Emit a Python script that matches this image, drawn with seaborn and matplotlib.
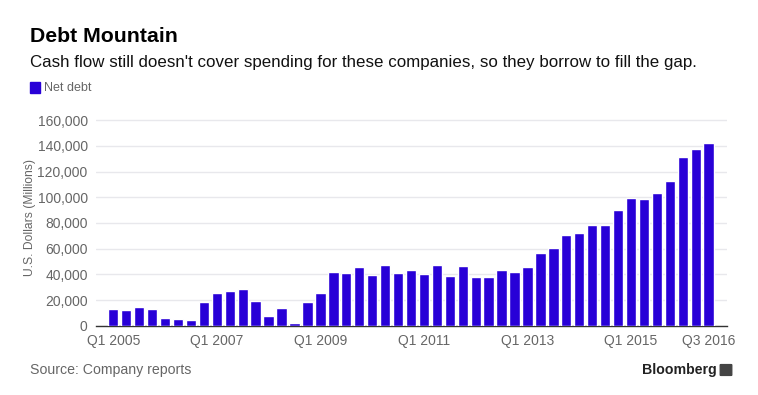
import matplotlib
matplotlib.use("Agg")
import matplotlib.pyplot as plt
import seaborn as sns
import pandas as pd
from matplotlib.patches import FancyBboxPatch

# Net debt by quarter, Q1 2005 - Q3 2016 (U.S. $ millions)
years = list(range(2005, 2017))
quarters = [f"Q{q} {y}" for y in years for q in (1, 2, 3, 4)][:47]
net_debt = [12700, 11950, 14300, 12700, 6000, 5450, 4400, 18200, 25400, 26700,
            28300, 19500, 7500, 13800, 1800, 18200, 25400, 42000, 41000, 45700,
            39700, 47000, 41000, 43400, 40200, 47300, 38700, 46500, 38200, 38200,
            43100, 42100, 45400, 56900, 60500, 70400, 71900, 78100, 78400, 90100,
            99700, 98400, 103600, 112400, 131100, 137600, 142000]
shown_ticks = ["Q1 2005", "Q1 2007", "Q1 2009", "Q1 2011", "Q1 2013", "Q1 2015", "Q3 2016"]
y_ticks = list(range(0, 160001, 20000))

BAR = "#2800d7"
GREY = "#666666"


def main():
    df = pd.DataFrame({"quarter": quarters, "net_debt": net_debt})

    sns.set_style("white")
    plt.rcParams["font.family"] = ["Liberation Sans", "DejaVu Sans"]

    fig = plt.figure(figsize=(7.58, 3.95), dpi=100)
    ax = fig.add_axes([0.1266, 0.1754, 0.8324, 0.5266])

    sns.barplot(data=df, x="quarter", y="net_debt", color=BAR, width=0.8,
                saturation=1, ax=ax, zorder=3)

    ax.set_xlim(-1.34, len(quarters) - 1 + 1.41)
    ax.set_ylim(0, 162000)
    ax.set_yticks(y_ticks)
    ax.set_yticklabels([f"{v:,}" for v in y_ticks], color=GREY, fontsize=10)
    ax.yaxis.grid(True, color="#e8e8ec", linewidth=1, zorder=0)
    ax.xaxis.grid(False)

    pos = [quarters.index(t) for t in shown_ticks]
    ax.set_xticks(pos)
    ax.set_xticklabels(shown_ticks, color=GREY, fontsize=10)
    ax.tick_params(axis="x", length=4, width=1, color="#333333", pad=2)
    ax.tick_params(axis="y", length=0, pad=6)
    ax.set_xlabel("")
    ax.set_ylabel("")

    for s in ["top", "right", "left"]:
        ax.spines[s].set_visible(False)
    ax.spines["bottom"].set_color("#333333")
    ax.spines["bottom"].set_linewidth(1)

    fig.text(30 / 758, 1 - 218 / 395, "U.S. Dollars (Millions)", rotation=90,
             ha="center", va="center", color=GREY, fontsize=8.7)

    # header
    fig.text(30 / 758, 1 - 37 / 395, "Debt Mountain", fontsize=15.3,
             fontweight="bold", color="#000000", va="center")
    fig.text(30 / 758, 1 - 62 / 395,
             "Cash flow still doesn't cover spending for these companies, so they borrow to fill the gap.",
             fontsize=12.2, color="#111111", va="center")

    # legend
    fig.patches.append(plt.Rectangle((30 / 758, 1 - 93 / 395), 10 / 758, 11 / 395,
                                     transform=fig.transFigure, color=BAR))
    fig.text(44 / 758, 1 - 88 / 395, "Net debt", fontsize=9, color=GREY, va="center")

    # footer
    fig.text(30 / 758, 1 - 370 / 395, "Source: Company reports", fontsize=10.2,
             color=GREY, va="center")
    fig.text(717 / 758, 1 - 370 / 395, "Bloomberg", fontsize=10.2, fontweight="bold",
             color="#222222", va="center", ha="right")
    fig.patches.append(FancyBboxPatch((721 / 758, 1 - 375 / 395), 10 / 758, 10 / 395,
                                      boxstyle="round,pad=0.001",
                                      transform=fig.transFigure, color="#444444"))

    fig.savefig("out.png", dpi=100)
    plt.close(fig)


if __name__ == "__main__":
    main()
